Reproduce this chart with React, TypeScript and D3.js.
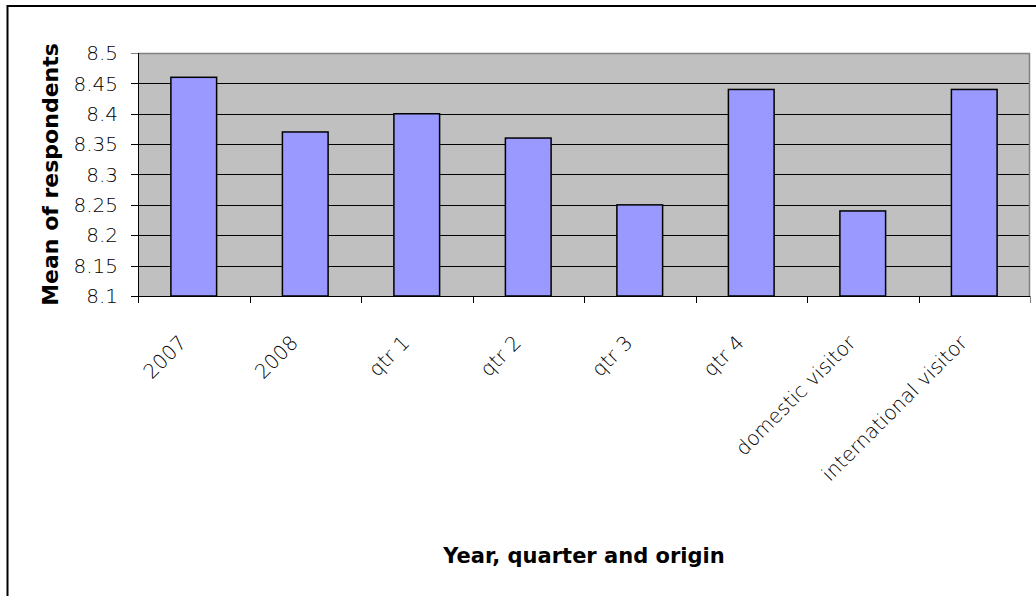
import React from "react";
import * as d3 from "d3";

// Mean rating by year, quarter and visitor origin
const categories = [
  "2007",
  "2008",
  "qtr 1",
  "qtr 2",
  "qtr 3",
  "qtr 4",
  "domestic visitor",
  "international visitor",
];
const meanValues = [8.46, 8.37, 8.4, 8.36, 8.25, 8.44, 8.24, 8.44];
const yTicks = [8.1, 8.15, 8.2, 8.25, 8.3, 8.35, 8.4, 8.45, 8.5];
const yDomain = [8.1, 8.5];
const yTitle = "Mean of respondents";
const xTitle = "Year, quarter and origin";

const W = 1036;
const H = 596;
const plot = { left: 138, right: 1030, top: 53, bottom: 296 };

const tickFont = "'DejaVu Sans', 'Open Sans', sans-serif";
const titleFont = "'DejaVu Sans', Verdana, sans-serif";

export default function App() {
  const x = d3
    .scaleBand<string>()
    .domain(categories)
    .range([plot.left, plot.right])
    .paddingInner(0.59)
    .paddingOuter(0.295);
  const y = d3
    .scaleLinear()
    .domain(yDomain)
    .range([plot.bottom, plot.top]);
  const step = x.step();
  const fmt = d3.format("~g");

  return (
    <svg
      width={W}
      height={H}
      style={{ position: "absolute", left: 0, top: 0, background: "#fff" }}
    >
      {/* chart frame */}
      <rect x={7.5} y={6} width={W + 20} height={H + 20} fill="#fff" stroke="#000" strokeWidth={2} />

      {/* plot area */}
      <rect
        x={plot.left}
        y={plot.top}
        width={plot.right - plot.left}
        height={plot.bottom - plot.top}
        fill="#C0C0C0"
      />
      {/* gridlines */}
      {yTicks.slice(1, -1).map((t) => (
        <line
          key={"g" + t}
          x1={plot.left}
          x2={plot.right}
          y1={Math.round(y(t)) + 0.5}
          y2={Math.round(y(t)) + 0.5}
          stroke="#000"
          strokeWidth={1}
        />
      ))}
      {/* plot border top and right */}
      <line x1={plot.left} x2={plot.right} y1={plot.top + 0.5} y2={plot.top + 0.5} stroke="#808080" strokeWidth={1.5} />
      <line x1={plot.right - 0.5} x2={plot.right - 0.5} y1={plot.top} y2={plot.bottom} stroke="#808080" strokeWidth={1.5} />

      {/* bars */}
      {categories.map((c, i) => (
        <rect
          key={c}
          x={x(c)!}
          y={y(meanValues[i])}
          width={x.bandwidth()}
          height={y(yDomain[0]) - y(meanValues[i])}
          fill="#9999FF"
          stroke="#000"
          strokeWidth={1.5}
        />
      ))}

      {/* y axis */}
      <line x1={plot.left + 0.5} x2={plot.left + 0.5} y1={plot.top} y2={plot.bottom} stroke="#000" strokeWidth={1} />
      {yTicks.map((t) => (
        <g key={"t" + t}>
          <line
            x1={plot.left - 7}
            x2={plot.left}
            y1={Math.round(y(t)) + 0.5}
            y2={Math.round(y(t)) + 0.5}
            stroke={t === yDomain[1] ? "#808080" : "#000"}
            strokeWidth={1}
          />
          <text
            x={118}
            y={y(t)}
            dy="0.36em"
            textAnchor="end"
            fontFamily={tickFont}
            fontWeight={200}
            fontSize={20}
            fill="#000"
          >
            {fmt(t)}
          </text>
        </g>
      ))}

      {/* x axis */}
      <line x1={plot.left} x2={plot.right} y1={plot.bottom + 0.5} y2={plot.bottom + 0.5} stroke="#000" strokeWidth={1} />
      {d3.range(categories.length + 1).map((k) => (
        <line
          key={"xt" + k}
          x1={Math.round(plot.left + k * step) + 0.5}
          x2={Math.round(plot.left + k * step) + 0.5}
          y1={plot.bottom}
          y2={plot.bottom + 7}
          stroke={k === categories.length ? "#808080" : "#000"}
          strokeWidth={1}
        />
      ))}
      {categories.map((c) => {
        const cx = x(c)! + x.bandwidth() / 2 - 6;
        const cy = plot.bottom + 48;
        return (
          <text
            key={"xl" + c}
            transform={`translate(${cx},${cy}) rotate(-45)`}
            textAnchor="end"
            fontFamily={tickFont}
            fontWeight={200}
            fontSize={20}
            fill="#000"
          >
            {c}
          </text>
        );
      })}

      {/* axis titles */}
      <text
        transform={`translate(58,${(plot.top + plot.bottom) / 2}) rotate(-90)`}
        textAnchor="middle"
        fontFamily={titleFont}
        fontWeight="bold"
        fontSize={22}
        fill="#000"
      >
        {yTitle}
      </text>
      <text
        x={(plot.left + plot.right) / 2}
        y={563}
        textAnchor="middle"
        fontFamily={titleFont}
        fontWeight="bold"
        fontSize={21}
        fill="#000"
      >
        {xTitle}
      </text>
    </svg>
  );
}
